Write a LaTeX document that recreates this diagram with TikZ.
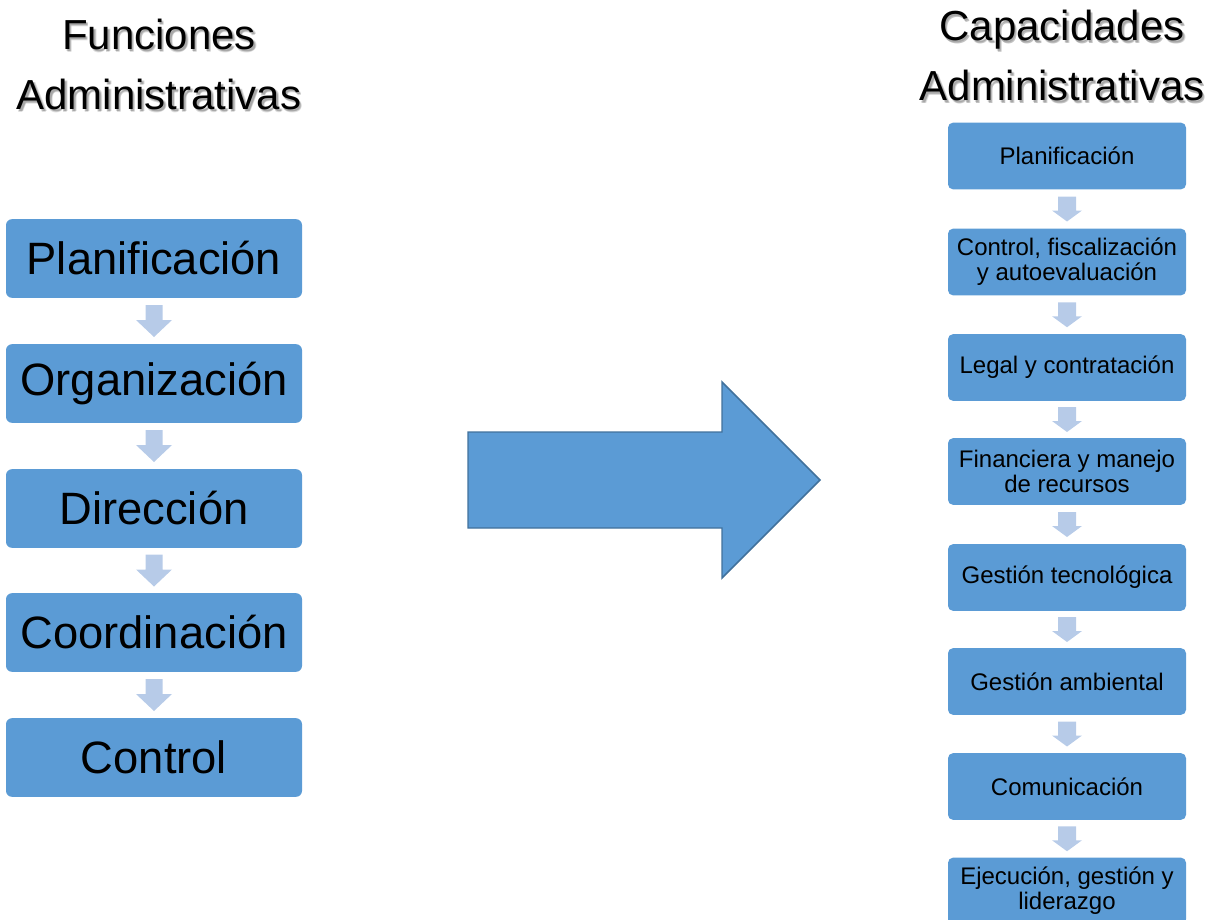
\documentclass[tikz,border=0pt]{standalone}
\usepackage{fontspec}
\setmainfont{Liberation Sans}
\usetikzlibrary{calc}
\definecolor{boxblue}{HTML}{5B9BD5}
\definecolor{arrowlight}{HTML}{B7CBE8}
\definecolor{bigedge}{HTML}{41719C}

\tikzset{
  bigbox/.style={fill=boxblue, rounded corners=4.5pt, minimum width=222pt,
    minimum height=59pt, inner sep=0pt, align=center,
    font=\fontsize{34}{38}\selectfont},
  smallbox/.style={fill=boxblue, rounded corners=3.75pt, minimum width=178.5pt,
    minimum height=50pt, inner sep=0pt, align=center,
    font=\fontsize{18}{18.75}\selectfont},
  titletext/.style={inner sep=0pt, align=center, font=\fontsize{31.5}{45}\selectfont},
  titleshade/.style={titletext, text=black, opacity=0.13},
  bigdown/.pic={
    \path[fill=arrowlight] (-8.5,-16) -- (8.5,-16) -- (8.5,-1) -- (18,-1)
      -- (0,16) -- (-18,-1) -- (-8.5,-1) -- cycle;
  },
  smalldown/.pic={
    \path[fill=arrowlight] (-9,-12.5) -- (9,-12.5) -- (9,1.5) -- (15,1.5)
      -- (0,12.5) -- (-15,1.5) -- (-9,1.5) -- cycle;
  },
}

\begin{document}
\begin{tikzpicture}[x=0.75pt,y=-0.75pt]
\useasboundingbox (0,0) rectangle (1220,920);
\clip (0,0) rectangle (1220,920);

% titles with a soft drop shadow
\foreach \dx/\dy in {1.5/2,2.5/2.5,2/3}{
  \node[titleshade] at (159+\dx,64+\dy) {Funciones\\Administrativas};
  \node[titleshade] at (1062+\dx,55.5+\dy) {Capacidades\\Administrativas};
}
\node[titletext] (tleft) at (159,64) {Funciones\\Administrativas};
\node[titletext] (tright) at (1062,55.5) {Capacidades\\Administrativas};

% administrative functions
\node[bigbox] (l1) at (154,258.5) {Planificación};
\node[bigbox] (l2) at (154,383.5) {Organización};
\node[bigbox] (l3) at (154,508.5) {Dirección};
\node[bigbox] (l4) at (154,632.5) {Coordinación};
\node[bigbox] (l5) at (154,757.5) {Control};
\foreach \a/\b in {l1/l2,l2/l3,l3/l4,l4/l5}
  \pic at ($(\a.south)!0.5!(\b.north)$) {bigdown};

% block arrow between the columns
\draw[fill=boxblue, draw=bigedge, line width=1.1pt, line join=miter]
  (468,432) -- (722,432) -- (722,382) -- (820,480) -- (722,578)
  -- (722,528) -- (468,528) -- cycle;

% administrative capacities
\node[smallbox] (r1) at (1067,156) {Planificación};
\node[smallbox] (r2) at (1067,262) {Control, fiscalización\\y autoevaluación};
\node[smallbox] (r3) at (1067,367.5) {Legal y contratación};
\node[smallbox] (r4) at (1067,471.5) {Financiera y manejo\\de recursos};
\node[smallbox] (r5) at (1067,577.5) {Gestión tecnológica};
\node[smallbox] (r6) at (1067,681.5) {Gestión ambiental};
\node[smallbox] (r7) at (1067,786.5) {Comunicación};
\node[smallbox] (r8) at (1067,891) {Ejecución, gestión y\\liderazgo};
\foreach \a/\b in {r1/r2,r2/r3,r3/r4,r4/r5,r5/r6,r6/r7,r7/r8}
  \pic at ($(\a.south)!0.5!(\b.north)$) {smalldown};
\end{tikzpicture}
\end{document}
